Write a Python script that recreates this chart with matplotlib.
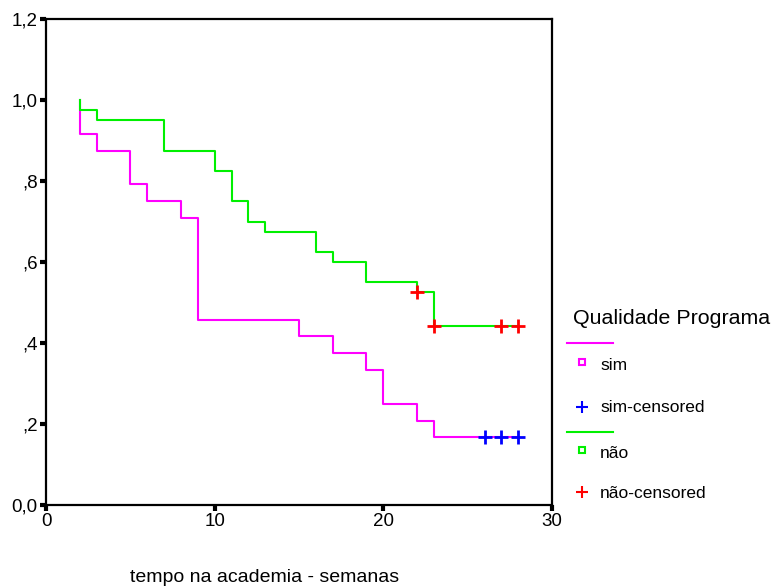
import matplotlib
matplotlib.use("Agg")
import matplotlib.pyplot as plt
from matplotlib.lines import Line2D

plt.rcParams['font.family'] = ['Liberation Sans', 'DejaVu Sans']

# Kaplan-Meier step data
sim_times = [2, 2, 3, 5, 6, 8, 9, 15, 17, 19, 20, 22, 23, 28]
sim_surv = [1.0, 0.917, 0.875, 0.792, 0.75, 0.708, 0.458, 0.417, 0.375, 0.333, 0.25, 0.208, 0.167, 0.167]
sim_cens_t = [26, 27, 28]
sim_cens_s = [0.167, 0.167, 0.167]

nao_times = [2, 2, 3, 7, 10, 11, 12, 13, 16, 17, 19, 22, 23, 28]
nao_surv = [1.0, 0.975, 0.95, 0.875, 0.825, 0.75, 0.70, 0.675, 0.625, 0.60, 0.55, 0.525, 0.442, 0.442]
nao_cens_t = [22, 23, 27, 28]
nao_cens_s = [0.525, 0.442, 0.442, 0.442]

x_ticks = [0, 10, 20, 30]
y_ticks = [0.0, 0.2, 0.4, 0.6, 0.8, 1.0, 1.2]
y_tick_labels = ['0,0', ',2', ',4', ',6', ',8', '1,0', '1,2']

W, H = 776, 588
fig = plt.figure(figsize=(W / 100, H / 100), dpi=100)
ax = fig.add_axes([46 / W, 1 - 505 / H, (552 - 46) / W, (505 - 19) / H])

ax.step(sim_times, sim_surv, where='post', color='#ff00ff', lw=1.5)
ax.step(nao_times, nao_surv, where='post', color='#00f000', lw=1.5)
ax.plot(sim_cens_t, sim_cens_s, ls='none', marker='+', color='#0000ff', ms=10, mew=2)
ax.plot(nao_cens_t, nao_cens_s, ls='none', marker='+', color='#ff0000', ms=10, mew=2)

ax.set_xlim(0, 30)
ax.set_ylim(0, 1.2)
ax.set_xticks(x_ticks)
ax.set_xticklabels([str(t) for t in x_ticks], fontsize=13.5)
ax.set_yticks(y_ticks)
ax.set_yticklabels(y_tick_labels, fontsize=13.5)
ax.tick_params(direction='out', length=4, width=3, color='black', pad=2)
for s in ax.spines.values():
    s.set_linewidth(1.6)
    s.set_color('black')

def fx(px):
    return px / W

def fy(py):
    return 1 - py / H

fig.text(fx(265), fy(578), 'tempo na academia - semanas', fontsize=14,
         ha='center', va='center')

# Legend drawn manually
fig.text(fx(573), fy(318), 'Qualidade Programa', fontsize=15.4, ha='left', va='center')
fig.add_artist(Line2D([fx(567), fx(613)], [fy(343), fy(343)], color='#ff00ff', lw=1.5,
                      transform=fig.transFigure))
fig.add_artist(Line2D([fx(582)], [fy(362)], ls='none', marker='s', ms=5, mfc='white',
                      mec='#ff00ff', mew=1.5, transform=fig.transFigure))
fig.text(fx(600), fy(365), 'sim', fontsize=12.5, ha='left', va='center')
fig.add_artist(Line2D([fx(582)], [fy(407)], ls='none', marker='+', ms=9, color='#0000ff',
                      mew=1.5, transform=fig.transFigure))
fig.text(fx(600), fy(408), 'sim-censored', fontsize=12.5, ha='left', va='center')
fig.add_artist(Line2D([fx(567), fx(613)], [fy(432), fy(432)], color='#00f000', lw=1.5,
                      transform=fig.transFigure))
fig.add_artist(Line2D([fx(582)], [fy(450)], ls='none', marker='s', ms=5, mfc='white',
                      mec='#00f000', mew=1.5, transform=fig.transFigure))
fig.text(fx(600), fy(453), 'não', fontsize=12.5, ha='left', va='center')
fig.add_artist(Line2D([fx(582)], [fy(492)], ls='none', marker='+', ms=9, color='#ff0000',
                      mew=1.5, transform=fig.transFigure))
fig.text(fx(600), fy(494), 'não-censored', fontsize=12.5, ha='left', va='center')

fig.savefig('out.png', dpi=100)
